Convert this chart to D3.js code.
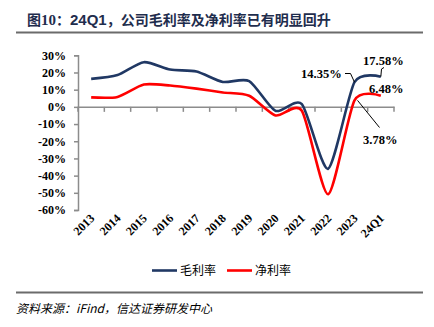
<!DOCTYPE html>
<html>
<head>
<meta charset="utf-8">
<script src="https://cdn.jsdelivr.net/npm/d3@7"></script>
<style>
  body { margin: 0; background: #fff; }
  svg { display: block; }
  .tick text { font-family: "Liberation Serif", "Times New Roman", serif; font-weight: bold; font-size: 12px; fill: #000; }
  .lbl { font-family: "Liberation Serif", "Times New Roman", serif; font-weight: bold; font-size: 12.5px; fill: #000; }
</style>
</head>
<body>
<svg width="434" height="327"></svg>
<script>
// data
var years = ["2013","2014","2015","2016","2017","2018","2019","2020","2021","2022","2023","24Q1"];
var grossMargin = [16.3, 18.5, 26.0, 21.7, 20.6, 14.5, 15.0, -2.3, 1.6, -36.0, 14.35, 17.58];
var netMargin = [5.5, 5.8, 13.0, 12.4, 10.6, 8.4, 6.5, -5.0, -2.3, -50.8, 3.78, 6.48];
var yTicks = [30, 20, 10, 0, -10, -20, -30, -40, -50, -60];
var seriesNames = ["毛利率", "净利率"];
var colors = ["#203864", "#ff0000"];

var svg = d3.select('svg');

// title
var title = svg.append('text')
    .attr('x', 27).attr('y', 25)
    .attr('fill', '#1f2d4d')
    .style('font-weight', 'bold')
    .style('font-size', '14px');
title.append('tspan').style('font-family', '"Noto Sans CJK SC", serif').text('图');
title.append('tspan').style('font-family', '"Liberation Serif", serif').style('font-size', '15px').text('10');
title.append('tspan').style('font-family', '"Noto Sans CJK SC"').text('：');
title.append('tspan').style('font-family', '"Liberation Sans", Arial, sans-serif').style('font-size', '15px').text('24Q1');
title.append('tspan').style('font-family', '"Noto Sans CJK SC"').text('，公司毛利率及净利率已有明显回升');

svg.append('line').attr('x1', 16).attr('x2', 423).attr('y1', 32.5).attr('y2', 32.5)
    .attr('stroke', '#6b6b6b').attr('stroke-width', 2);

// scales
var xScale = d3.scaleBand().domain(years).range([78, 394]);
var yScale = d3.scaleLinear().domain([-60, 30]).range([210, 55.3]);

// y axis
var yAxis = svg.append('g').attr('transform', 'translate(78,0)')
    .call(d3.axisLeft(yScale).tickValues(yTicks).tickSize(4).tickPadding(8)
        .tickFormat(function(d){ return d + '%'; }));
yAxis.select('.domain').attr('stroke', '#8c8c8c').attr('stroke-width', 1.5);
yAxis.selectAll('.tick line').attr('stroke', '#8c8c8c').attr('stroke-width', 1.5);

// x axis at 0%
var xAxis = svg.append('g').attr('transform', 'translate(0,' + yScale(0) + ')')
    .call(d3.axisBottom(xScale).tickSize(0).tickFormat(''));
xAxis.select('.domain').attr('stroke', '#8c8c8c').attr('stroke-width', 1.5);
var tickPos = d3.range(years.length + 1).map(function(i){ return 78 + i * xScale.step(); });
xAxis.selectAll('.sep').data(tickPos).enter().append('line')
    .attr('x1', function(d){ return d; }).attr('x2', function(d){ return d; })
    .attr('y1', 0).attr('y2', 5)
    .attr('stroke', '#8c8c8c').attr('stroke-width', 1.5);

// x labels, rotated
svg.selectAll('.xl').data(years).enter().append('text')
    .attr('class', 'lbl')
    .style('font-size', '12px')
    .attr('text-anchor', 'end')
    .attr('transform', function(d){
        return 'translate(' + (xScale(d) + xScale.bandwidth() / 2 + 4) + ',219) rotate(-45)';
    })
    .text(function(d){ return d; });

// lines
var line = d3.line()
    .x(function(d, i){ return xScale(years[i]) + xScale.bandwidth() / 2; })
    .y(function(d){ return yScale(d); })
    .curve(d3.curveCardinal.tension(0.3));

[grossMargin, netMargin].forEach(function(s, k){
    svg.append('path').datum(s)
        .attr('d', line)
        .attr('fill', 'none')
        .attr('stroke', colors[k])
        .attr('stroke-width', 2.6);
});

// annotations
function px(i){ return xScale(years[i]) + xScale.bandwidth() / 2; }
var ann = svg.append('g');
ann.append('text').attr('class', 'lbl').attr('x', 301).attr('y', 78).text('14.35%');
ann.append('polyline')
    .attr('points', [[345, 73.5], [350.5, 73.5], [px(10), yScale(grossMargin[10])]].join(' '))
    .attr('fill', 'none').attr('stroke', '#000').attr('stroke-width', 1);
ann.append('text').attr('class', 'lbl').attr('x', 363).attr('y', 65).text('17.58%');
ann.append('polyline')
    .attr('points', [[px(11), yScale(grossMargin[11])], [381.5, 69], [384, 67.5]].join(' '))
    .attr('fill', 'none').attr('stroke', '#000').attr('stroke-width', 1);
ann.append('text').attr('class', 'lbl').attr('x', 369).attr('y', 92.5).text('6.48%');
ann.append('text').attr('class', 'lbl').attr('x', 363).attr('y', 143.5).text('3.78%');
ann.append('line')
    .attr('x1', 379.5).attr('y1', 127.5)
    .attr('x2', px(10) + 3).attr('y2', yScale(netMargin[10]))
    .attr('stroke', '#000').attr('stroke-width', 1);

// legend
var lg = svg.append('g');
seriesNames.forEach(function(n, k){
    var x0 = 152 + k * 75;
    lg.append('line').attr('x1', x0).attr('x2', x0 + 25).attr('y1', 270.5).attr('y2', 270.5)
        .attr('stroke', colors[k]).attr('stroke-width', 2.6);
    lg.append('text').attr('x', x0 + 28).attr('y', 275)
        .style('font-family', '"Noto Sans CJK SC"').style('font-size', '12px')
        .attr('fill', '#000').text(n);
});

// bottom rule + source
svg.append('line').attr('x1', 16).attr('x2', 423).attr('y1', 292.5).attr('y2', 292.5)
    .attr('stroke', '#6b6b6b').attr('stroke-width', 2);
svg.append('text').attr('x', 16).attr('y', 313)
    .style('font-family', '"Noto Sans CJK SC"').style('font-size', '12px').style('font-style', 'italic')
    .attr('fill', '#000').text('资料来源：iFind，信达证券研发中心');
</script>
</body>
</html>
